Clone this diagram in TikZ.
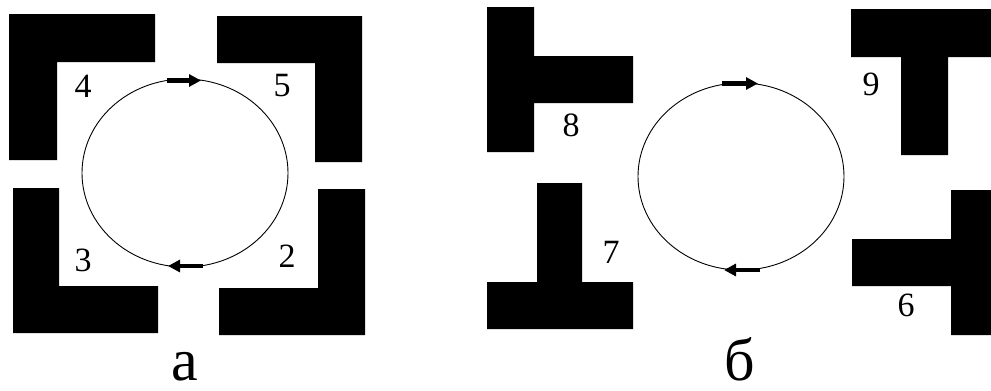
\documentclass[tikz,border=0pt]{standalone}
\usepackage{fontspec}
\setmainfont{Liberation Serif}
\newfontfamily\timesfont{Liberation Serif}
\usetikzlibrary{arrows.meta}
\begin{document}
\begin{tikzpicture}[x=1pt,y=-1pt,
  block/.style={fill=black,draw=none},
  orbit/.style={draw=black,line width=0.9pt},
  flow/.style={line width=4.5pt,-{Triangle[length=12pt,width=12pt]}},
  num/.style={font=\timesfont\fontsize{34}{34}\selectfont,inner sep=0pt},
  caption/.style={font=\timesfont\fontsize{60}{60}\selectfont,inner sep=0pt,anchor=base}]
\useasboundingbox (0,0) rectangle (991,391);
% ---- part a ----
\fill[block] (9,14) -- (155,14) -- (155,62) -- (57,62) -- (57,160) -- (9,160) -- cycle;
\fill[block] (217,16) -- (362,16) -- (362,162) -- (315,162) -- (315,63) -- (217,63) -- cycle;
\fill[block] (13,188) -- (59,188) -- (59,286) -- (158,286) -- (158,333) -- (13,333) -- cycle;
\fill[block] (318,189) -- (365,189) -- (365,335) -- (219,335) -- (219,288) -- (318,288) -- cycle;
\coordinate (ca) at (185,173);
\draw[orbit] (ca) ellipse [x radius=103, y radius=94];
\coordinate (a1) at (167,80.5);
\coordinate (a2) at (201,80.5);
\draw[flow] (a1) -- (a2);
\coordinate (a3) at (203,266);
\coordinate (a4) at (168,266);
\draw[flow] (a3) -- (a4);
\node[num] (n4) at (83,86) {4};
\node[num] (n5) at (282,86) {5};
\node[num] (n3) at (83,260) {3};
\node[num] (n2) at (287,256) {2};
\node[caption] (la) at (185,380) {а};
% ---- part b ----
\fill[block] (487,7) -- (534,7) -- (534,56) -- (633,56) -- (633,103) -- (534,103) -- (534,152) -- (487,152) -- cycle;
\fill[block] (537,183) -- (582,183) -- (582,282) -- (633,282) -- (633,329) -- (487,329) -- (487,282) -- (537,282) -- cycle;
\fill[block] (851,9) -- (991,9) -- (991,57) -- (948,57) -- (948,155) -- (901,155) -- (901,57) -- (851,57) -- cycle;
\fill[block] (951,190) -- (991,190) -- (991,335) -- (951,335) -- (951,286) -- (852,286) -- (852,239) -- (951,239) -- cycle;
\coordinate (cb) at (741,176.5);
\draw[orbit] (cb) ellipse [x radius=103, y radius=93.5];
\coordinate (b1) at (722,83.5);
\coordinate (b2) at (758,83.5);
\draw[flow] (b1) -- (b2);
\coordinate (b3) at (760,270);
\coordinate (b4) at (724,270);
\draw[flow] (b3) -- (b4);
\node[num] (n8) at (571,125) {8};
\node[num] (n9) at (871,84) {9};
\node[num] (n7) at (611,252) {7};
\node[num] (n6) at (906,305) {6};
\node[caption] (lb) at (740,380) {б};
\end{tikzpicture}
\end{document}
